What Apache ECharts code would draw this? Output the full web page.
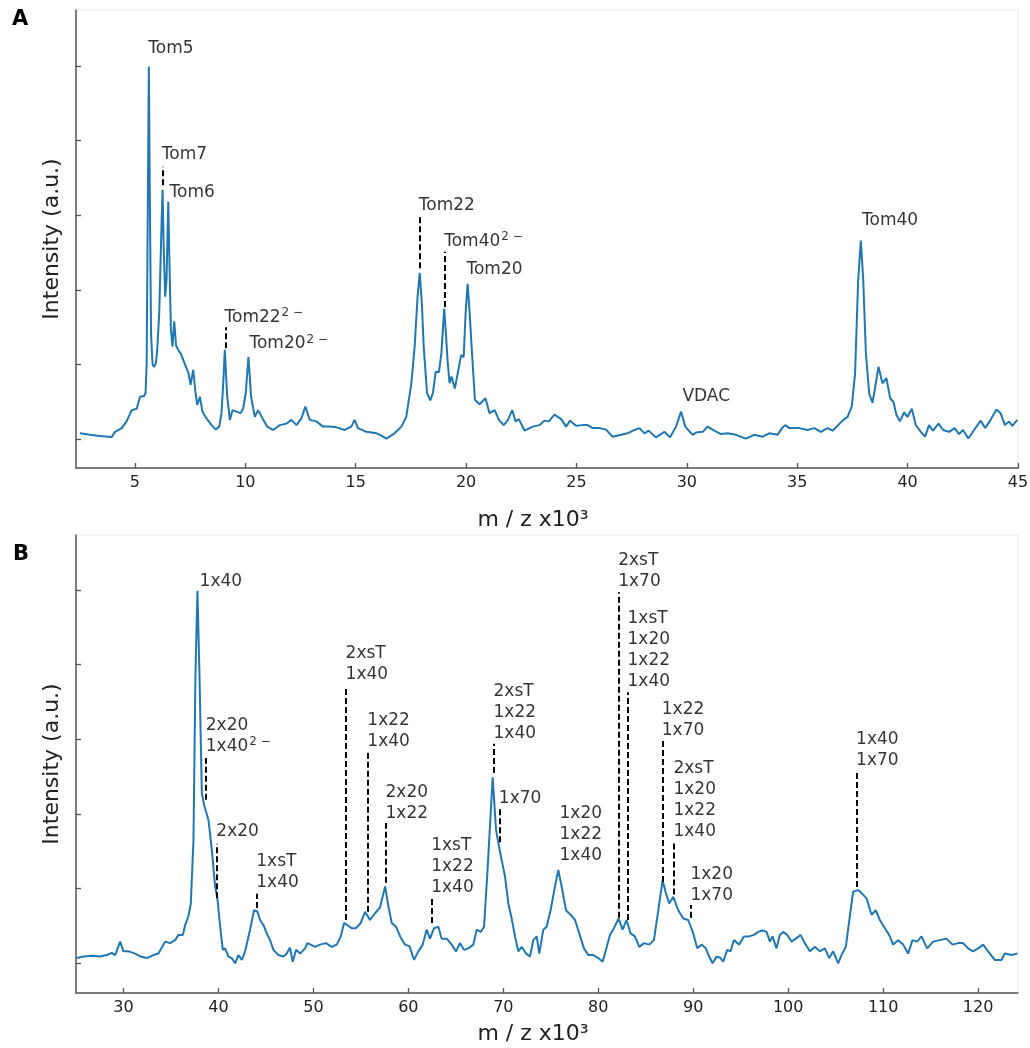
<!DOCTYPE html>
<html>
<head>
<meta charset="utf-8">
<script src="https://cdn.jsdelivr.net/npm/echarts@6/dist/echarts.min.js"></script>
<style>
html,body{margin:0;padding:0;background:#fff;}
#chart{width:1030px;height:1048px;}
</style>
</head>
<body>
<div id="chart"></div>
<script>
// ---------- Panel A spectrum (m/z x10^3, intensity a.u.) ----------
const aMz = [2.51,2.96,3.42,3.94,4.10,4.40,4.62,4.85,5.08,5.23,5.41,5.48,5.53,5.59,5.63,5.67,5.73,5.80,5.87,5.95,6.01,6.10,6.19,6.25,6.31,6.37,6.43,6.51,6.57,6.63,6.70,6.78,6.86,6.95,7.00,7.07,7.19,7.34,7.43,7.52,7.64,7.73,7.82,7.94,8.06,8.24,8.47,8.67,8.82,8.92,9.00,9.07,9.13,9.18,9.30,9.42,9.60,9.78,9.90,10.02,10.14,10.20,10.26,10.43,10.58,10.78,10.99,11.26,11.56,11.86,12.09,12.32,12.54,12.72,12.92,13.22,13.52,13.82,14.13,14.50,14.80,14.95,15.10,15.48,15.94,16.10,16.39,16.76,17.07,17.29,17.52,17.67,17.80,17.90,18.00,18.08,18.23,18.38,18.50,18.62,18.77,18.88,19.01,19.10,19.16,19.25,19.34,19.49,19.65,19.78,19.89,19.98,20.07,20.16,20.25,20.40,20.61,20.88,21.06,21.29,21.49,21.70,21.88,22.09,22.24,22.39,22.65,23.02,23.33,23.55,23.75,24.00,24.31,24.53,24.71,24.98,25.29,25.51,25.74,26.04,26.34,26.64,27.02,27.32,27.62,27.85,28.08,28.27,28.60,28.98,29.24,29.51,29.74,29.93,30.26,30.41,30.72,30.94,31.24,31.55,31.85,32.22,32.68,33.05,33.43,33.73,34.11,34.31,34.46,34.64,35.09,35.47,35.77,36.07,36.37,36.60,36.82,37.05,37.28,37.47,37.62,37.76,37.88,37.99,38.11,38.26,38.41,38.53,38.68,38.86,39.04,39.21,39.36,39.49,39.65,39.84,39.99,40.19,40.37,40.60,40.79,40.97,41.15,41.40,41.61,41.88,42.13,42.33,42.51,42.75,43.01,43.31,43.51,43.76,44.02,44.21,44.41,44.59,44.74,44.97];
const aInt = [0.08,0.06,0.045,0.03,0.10,0.15,0.24,0.39,0.41,0.57,0.58,0.62,1.0,3.4,4.99,3.4,1.4,1.0,0.97,1.02,1.20,1.69,2.71,3.34,2.49,1.91,2.13,3.18,2.27,1.46,1.24,1.58,1.26,1.20,1.22,1.15,1.06,0.95,0.88,0.73,0.93,0.66,0.46,0.57,0.37,0.28,0.19,0.13,0.17,0.35,0.75,1.2,0.85,0.57,0.26,0.39,0.37,0.35,0.41,0.62,1.1,0.85,0.57,0.30,0.39,0.28,0.17,0.125,0.19,0.21,0.26,0.19,0.28,0.44,0.26,0.24,0.17,0.17,0.16,0.125,0.17,0.26,0.15,0.10,0.08,0.06,0.01,0.08,0.17,0.30,0.75,1.24,1.9,2.23,1.8,1.24,0.62,0.52,0.62,0.90,0.90,1.15,1.75,1.35,1.06,0.75,0.84,0.68,0.93,1.13,1.10,1.7,2.08,1.7,1.24,0.53,0.47,0.55,0.35,0.39,0.26,0.19,0.25,0.39,0.24,0.27,0.115,0.17,0.19,0.25,0.24,0.33,0.27,0.17,0.25,0.18,0.19,0.19,0.15,0.15,0.13,0.035,0.06,0.08,0.125,0.15,0.08,0.115,0.026,0.10,0.026,0.17,0.37,0.17,0.06,0.09,0.10,0.17,0.115,0.07,0.08,0.06,0.01,0.06,0.035,0.08,0.06,0.15,0.19,0.15,0.15,0.125,0.15,0.10,0.15,0.115,0.18,0.25,0.30,0.44,0.88,2.13,2.66,2.13,1.15,0.61,0.49,0.70,0.97,0.75,0.82,0.55,0.50,0.33,0.24,0.36,0.30,0.41,0.19,0.10,0.035,0.19,0.115,0.21,0.125,0.10,0.15,0.07,0.125,0.01,0.125,0.25,0.15,0.26,0.40,0.35,0.19,0.24,0.18,0.26];

// ---------- Panel B spectrum ----------
const bMz = [25.09,25.79,26.67,27.54,28.25,28.77,29.12,29.65,30.00,30.53,31.23,31.82,32.46,33.16,33.68,34.39,34.91,35.44,35.79,36.25,36.49,36.84,37.09,37.37,37.58,37.79,38.00,38.25,38.49,38.70,38.95,39.30,39.65,39.89,40.18,40.46,40.70,41.05,41.40,41.75,42.10,42.46,42.81,43.33,43.75,44.11,44.39,44.74,45.09,45.44,45.79,46.32,46.84,47.19,47.54,47.82,48.18,48.60,49.12,49.37,49.72,50.18,50.70,51.33,51.93,52.46,52.88,53.23,53.58,54.04,54.49,54.98,55.44,55.96,56.49,57.02,57.55,57.90,58.25,58.70,59.13,59.65,60.11,60.60,61.05,61.51,61.93,62.28,62.70,63.16,63.51,64.04,64.56,65.02,65.44,65.86,66.32,66.84,67.20,67.62,67.97,68.32,68.88,69.23,69.48,69.83,70.18,70.53,70.88,71.23,71.58,71.93,72.39,72.81,73.16,73.51,73.79,74.21,74.56,74.98,75.44,75.79,76.14,76.60,77.09,77.55,78.00,78.49,78.95,79.47,80.00,80.46,80.81,81.23,81.65,82.14,82.56,82.98,83.40,83.86,84.32,84.81,85.37,85.86,86.32,86.77,87.12,87.47,87.90,88.42,88.95,89.47,90.00,90.42,90.88,91.33,91.68,92.04,92.46,92.88,93.16,93.58,93.93,94.28,94.84,95.33,95.90,96.39,96.84,97.30,97.72,98.07,98.35,98.77,99.12,99.47,99.90,100.35,100.81,101.30,101.75,102.28,102.81,103.33,103.86,104.32,104.74,105.26,105.61,106.07,106.49,106.84,107.37,107.72,108.25,108.77,109.23,109.65,110.18,110.63,111.05,111.58,112.11,112.63,113.09,113.58,114.04,114.63,115.26,115.96,116.67,117.30,117.89,118.42,118.95,119.47,120.00,120.53,121.05,121.75,122.46,122.81,123.51,124.15];
const bInt = [0.07,0.09,0.10,0.09,0.11,0.14,0.11,0.29,0.16,0.16,0.13,0.09,0.07,0.11,0.13,0.29,0.27,0.31,0.38,0.38,0.51,0.63,0.80,1.65,3.88,4.99,3.88,2.28,2.12,2.10,1.92,1.52,1.03,0.87,0.49,0.18,0.20,0.09,0.07,0.0,0.11,0.045,0.16,0.45,0.71,0.69,0.58,0.51,0.40,0.31,0.18,0.11,0.09,0.13,0.21,0.02,0.18,0.13,0.20,0.27,0.25,0.22,0.25,0.27,0.22,0.25,0.36,0.54,0.51,0.47,0.47,0.54,0.69,0.58,0.67,0.75,1.03,0.76,0.54,0.49,0.36,0.25,0.23,0.045,0.16,0.25,0.45,0.33,0.47,0.49,0.33,0.33,0.25,0.16,0.27,0.18,0.20,0.25,0.45,0.42,0.49,1.21,2.49,1.79,1.61,1.38,1.16,0.80,0.60,0.36,0.16,0.22,0.13,0.09,0.31,0.36,0.13,0.45,0.49,0.71,1.03,1.25,1.03,0.71,0.65,0.58,0.40,0.20,0.11,0.11,0.07,0.02,0.18,0.38,0.47,0.60,0.45,0.58,0.40,0.36,0.22,0.27,0.25,0.31,0.71,1.11,0.94,0.80,0.89,0.71,0.60,0.58,0.40,0.20,0.25,0.20,0.09,0.0,0.09,0.07,0.02,0.18,0.16,0.31,0.25,0.36,0.36,0.38,0.42,0.44,0.42,0.29,0.36,0.20,0.38,0.42,0.38,0.29,0.33,0.38,0.27,0.16,0.22,0.16,0.20,0.07,0.16,0.0,0.11,0.22,0.63,0.96,0.98,0.94,0.87,0.65,0.71,0.58,0.47,0.38,0.25,0.31,0.25,0.13,0.31,0.29,0.36,0.20,0.29,0.31,0.33,0.25,0.27,0.27,0.20,0.16,0.20,0.25,0.16,0.045,0.045,0.13,0.11,0.13];

// ---------- Axis ticks ----------
const aTicksX = [5,10,15,20,25,30,35,40,45];
const bTicksX = [30,40,50,60,70,80,90,100,110,120];
const ticksY = [0,1,2,3,4,5];

// ---------- Annotations, panel A ----------
const aLblText = ['Tom5','Tom7','Tom6','Tom22{s|2 −}','Tom20{s|2 −}','Tom22','Tom40{s|2 −}','Tom20','VDAC','Tom40'];
const aLblX = [5.63,6.24,6.59,9.08,10.21,17.88,19.03,20.04,29.82,37.96];
const aLblY = [5.08,3.66,3.16,1.48,1.13,2.98,2.50,2.13,0.43,2.78];
const aDashX = [6.24,9.10,17.92,19.03];
const aDashY1 = [3.40,1.22,2.29,1.77];
const aDashY2 = [3.65,1.50,3.00,2.51];

// ---------- Annotations, panel B ----------
const bLblText = ['1x40','2x20\n1x40{s|2 −}','2x20','1xsT\n1x40','2xsT\n1x40','1x22\n1x40','2x20\n1x22','1xsT\n1x22\n1x40','2xsT\n1x22\n1x40','1x70','1x20\n1x22\n1x40','2xsT\n1x70','1xsT\n1x20\n1x22\n1x40','1x22\n1x70','2xsT\n1x20\n1x22\n1x40','1x20\n1x70','1x40\n1x70'];
const bLblX = [38.07,38.72,39.83,44.04,53.44,55.73,57.65,62.46,69.02,69.58,75.97,82.15,83.13,86.74,87.97,89.76,107.2];
const bLblY = [4.97,2.76,1.62,0.93,3.72,2.82,1.86,0.87,2.93,2.06,1.29,4.96,3.63,2.97,1.62,0.76,2.57];
const bDashX = [38.70,39.83,44.04,53.44,55.73,57.65,62.46,69.02,69.58,82.15,83.13,86.74,87.97,89.76,107.2];
const bDashY1 = [2.19,0.87,0.74,0.58,0.69,1.08,0.54,2.55,1.62,0.61,0.58,1.09,0.92,0.61,1.02];
const bDashY2 = [2.75,1.60,0.93,3.70,2.83,1.88,0.87,2.94,2.09,4.97,3.63,2.99,1.63,0.78,2.59];

const FONT = 'DejaVu Sans';
const AXC = '#555';
const zip = (xs, ys) => xs.map((x, i) => [x, ys[i]]);
const dashes = (xs, y1, y2) => xs.map((x, i) => [{coord: [x, y1[i]]}, {coord: [x, y2[i]]}]);
const labels = (t, xs, ys) => t.map((s, i) => ({value: [xs[i], ys[i]], name: s}));

function xAxisCfg(grid, min, max, ticks, gap) {
  return {
    type: 'value', gridIndex: grid, min: min, max: max,
    axisLine: {show: true, onZero: false, lineStyle: {color: AXC, width: 1.5}},
    axisTick: {show: true, inside: true, length: 5, customValues: ticks, lineStyle: {color: AXC, width: 1.3}},
    axisLabel: {show: true, customValues: ticks, margin: 7, fontSize: 16, color: '#222', fontFamily: FONT},
    splitLine: {show: false},
    name: 'm / z x10³', nameLocation: 'middle', nameGap: gap,
    nameTextStyle: {fontSize: 22, color: '#222', fontFamily: FONT, padding: [0, 28, 0, 0]}
  };
}
function yAxisCfg(grid, min, max) {
  return {
    type: 'value', gridIndex: grid, min: min, max: max,
    axisLine: {show: true, onZero: false, lineStyle: {color: AXC, width: 1.5}},
    axisTick: {show: true, inside: true, length: 5, customValues: ticksY, lineStyle: {color: AXC, width: 1.3}},
    axisLabel: {show: false},
    splitLine: {show: false},
    name: 'Intensity (a.u.)', nameLocation: 'middle', nameGap: 13, nameRotate: 90,
    nameTextStyle: {fontSize: 22, color: '#222', fontFamily: FONT}
  };
}
const labelStyle = {
  show: true, formatter: '{b}', position: [0, 0], align: 'left', verticalAlign: 'bottom',
  fontSize: 17, lineHeight: 21, color: '#000', fontFamily: FONT,
  rich: {s: {fontSize: 12, lineHeight: 21, verticalAlign: 'top', padding: [0, 0, 0, 1], fontFamily: FONT, color: '#000'}}
};
function spectrum(idx, data, dash) {
  return {
    type: 'line', xAxisIndex: idx, yAxisIndex: idx, data: data,
    showSymbol: false, symbol: 'none', smooth: false,
    lineStyle: {color: '#1f77b4', width: 2}, silent: true,
    markLine: {
      silent: true, symbol: ['none', 'none'], label: {show: false},
      lineStyle: {color: '#000', width: 2, type: [6, 3]},
      emphasis: {disabled: true},
      data: dash
    }
  };
}
function annot(idx, data) {
  return {
    type: 'scatter', xAxisIndex: idx, yAxisIndex: idx, data: data,
    symbolSize: 1, itemStyle: {color: 'rgba(0,0,0,0)'}, silent: true,
    label: labelStyle, z: 5
  };
}

const chart = echarts.init(document.getElementById('chart'), null, {renderer: 'canvas'});
chart.setOption({
  animation: false,
  backgroundColor: '#fff',
  title: [
    {text: 'A', left: 12, top: 9, padding: 0, textStyle: {fontSize: 21, fontWeight: 'bold', color: '#000', fontFamily: FONT}},
    {text: 'B', left: 13, top: 544, padding: 0, textStyle: {fontSize: 21, fontWeight: 'bold', color: '#000', fontFamily: FONT}}
  ],
  grid: [
    {left: 76, right: 12, top: 10, height: 458, containLabel: false, outerBoundsMode: 'none', show: true, borderColor: '#e8e8e8', borderWidth: 1},
    {left: 76, right: 12, top: 535, height: 458, containLabel: false, outerBoundsMode: 'none', show: true, borderColor: '#e8e8e8', borderWidth: 1}
  ],
  xAxis: [xAxisCfg(0, 2.33, 45, aTicksX, 41), xAxisCfg(1, 25, 124.2, bTicksX, 30)],
  yAxis: [yAxisCfg(0, -0.384, 5.747), yAxisCfg(1, -0.398, 5.736)],
  series: [
    spectrum(0, zip(aMz, aInt), dashes(aDashX, aDashY1, aDashY2)),
    spectrum(1, zip(bMz, bInt), dashes(bDashX, bDashY1, bDashY2)),
    annot(0, labels(aLblText, aLblX, aLblY)),
    annot(1, labels(bLblText, bLblX, bLblY))
  ]
});
</script>
</body>
</html>
